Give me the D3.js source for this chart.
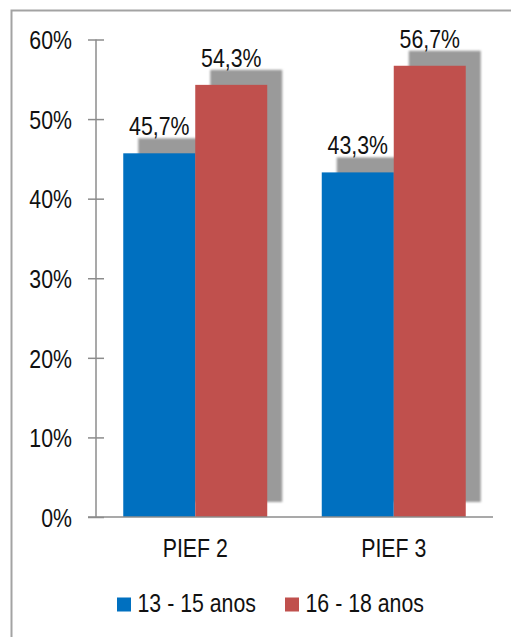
<!DOCTYPE html>
<html>
<head>
<meta charset="utf-8">
<script src="https://cdn.jsdelivr.net/npm/d3@7"></script>
<style>
  html, body { margin: 0; padding: 0; background: #fff; }
  svg text { font-family: "Liberation Sans", Arial, sans-serif; fill: #111; }
</style>
</head>
<body>
<svg id="chart" width="511" height="637"></svg>
<script>
const categories = ["PIEF 2", "PIEF 3"];
const seriesNames = ["13 - 15 anos", "16 - 18 anos"];
const series1 = [45.7, 43.3];
const series2 = [54.3, 56.7];
const yTicks = [0, 10, 20, 30, 40, 50, 60];
const colors = ["#0070C0", "#C0504D"];

const svg = d3.select("#chart");
const W = 511, H = 637;
const FS = 26;       // label font size
const SQUEEZE = 0.82; // condensed lettering

// place a text at (x, y) with condensed glyphs
function narrow(sel, fx, fy) {
  sel.attr("x", 0).attr("y", 0)
    .attr("transform", (d, i) => `translate(${fx(d, i)},${fy(d, i)}) scale(${SQUEEZE},1)`);
}

// outer frame
svg.append("rect")
  .attr("x", 11.5).attr("y", 10.5)
  .attr("width", W + 10).attr("height", H + 10)
  .attr("fill", "none").attr("stroke", "#a3a3a3").attr("stroke-width", 2);

const x0 = 96, x1 = 493, yTop = 39.5, yBot = 517;

const y = d3.scaleLinear().domain([0, 60]).range([yBot, yTop]);
const xBand = d3.scaleBand().domain(categories).range([x0, x1]).paddingInner(0).paddingOuter(0);
const groupW = xBand.bandwidth() * 0.7254;
const xInner = d3.scaleBand().domain([0, 1]).range([0, groupW]);

const data = categories.map((c, i) => ({ cat: c, vals: [series1[i], series2[i]] }));

const shadowDx = 15, shadowDy = -15;

const defs = svg.append("defs");
defs.append("filter").attr("id", "soft")
  .append("feGaussianBlur").attr("stdDeviation", 0.8);

const groups = svg.append("g").selectAll("g").data(data).join("g")
  .attr("transform", d => `translate(${xBand(d.cat) + (xBand.bandwidth() - groupW) / 2},0)`);

// shadows (drawn first)
groups.selectAll("rect.shadow").data(d => d.vals).join("rect")
  .attr("class", "shadow")
  .attr("x", (v, j) => xInner(j) + shadowDx)
  .attr("y", v => y(v) + shadowDy)
  .attr("width", xInner.bandwidth())
  .attr("height", v => yBot - y(v))
  .attr("fill", "#9a9a9a")
  .attr("filter", "url(#soft)");

// bars
groups.selectAll("rect.bar").data(d => d.vals).join("rect")
  .attr("class", "bar")
  .attr("x", (v, j) => xInner(j))
  .attr("y", v => y(v))
  .attr("width", xInner.bandwidth())
  .attr("height", v => yBot - y(v))
  .attr("fill", (v, j) => colors[j]);

// value labels
groups.selectAll("text.val").data(d => d.vals).join("text")
  .attr("class", "val")
  .attr("text-anchor", "middle")
  .attr("font-size", FS)
  .text(v => d3.format(".1f")(v).replace(".", ",") + "%")
  .call(narrow, (v, j) => xInner(j) + xInner.bandwidth() / 2, v => y(v) + shadowDy - 3);

// y axis
const yAxis = d3.axisLeft(y).tickValues(yTicks).tickSize(0).tickPadding(0)
  .tickFormat(d => d + "%");
const ya = svg.append("g").attr("transform", `translate(${x0},0)`).call(yAxis);
ya.select(".domain").remove();
ya.selectAll(".tick text")
  .attr("dy", null).attr("text-anchor", "end")
  .attr("font-size", FS).attr("font-family", null).attr("fill", "#111")
  .call(narrow, () => -24, () => 9.3);
ya.selectAll(".tick line").attr("x1", -8).attr("x2", 8).attr("stroke", "#8c8c8c").attr("stroke-width", 1.5);
svg.append("line").attr("x1", x0).attr("x2", x0).attr("y1", y(60)).attr("y2", yBot)
  .attr("stroke", "#8c8c8c").attr("stroke-width", 1.5);

// x axis
const xAxis = d3.axisBottom(xBand).tickSize(0).tickPadding(0);
const xa = svg.append("g").attr("transform", `translate(0,${yBot})`).call(xAxis);
xa.select(".domain").remove();
xa.selectAll(".tick text")
  .attr("dy", null)
  .attr("font-size", FS).attr("font-family", null).attr("fill", "#111")
  .call(narrow, () => 0, () => 39.5);
svg.append("line").attr("x1", 88).attr("x2", x1).attr("y1", yBot).attr("y2", yBot)
  .attr("stroke", "#8c8c8c").attr("stroke-width", 1.5);

// legend
const legendX = [117, 285];
const lg = svg.append("g").selectAll("g").data(seriesNames).join("g")
  .attr("transform", (d, i) => `translate(${legendX[i]},597.5)`);
lg.append("rect").attr("width", 14).attr("height", 14).attr("fill", (d, i) => colors[i]);
lg.append("text").attr("font-size", FS).text(d => d)
  .call(narrow, () => 20.5, () => 14.3);
</script>
</body>
</html>
